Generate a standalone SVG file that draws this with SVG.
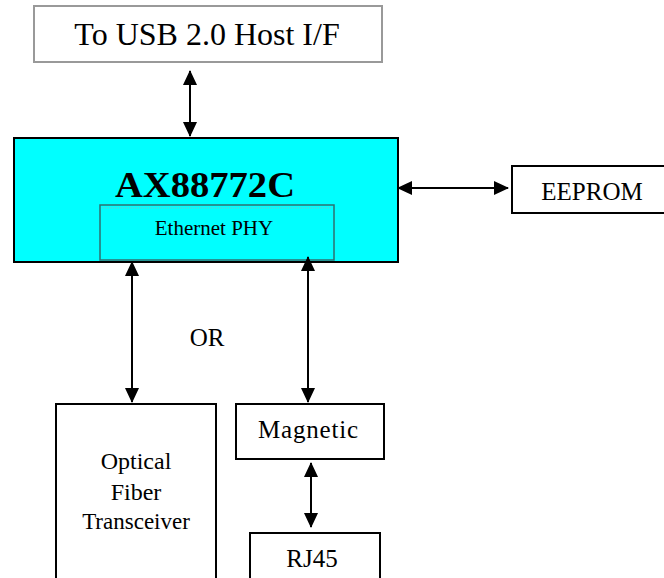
<svg xmlns="http://www.w3.org/2000/svg" width="664" height="578" viewBox="0 0 664 578">
<style>
.box{fill:#fff;stroke:#000;stroke-width:2}
.t{font-family:"Liberation Serif","Times New Roman",serif;fill:#000;text-anchor:middle}
.c{stroke:#000;stroke-width:2;fill:none;marker-start:url(#ah);marker-end:url(#ah)}
</style>
<defs>
<marker id="ah" markerUnits="userSpaceOnUse" markerWidth="16" markerHeight="16" refX="14" refY="7" orient="auto-start-reverse">
<path d="M0,0 L15,7 L0,14 z" fill="#000"/>
</marker>
</defs>
<rect width="664" height="578" fill="#fff"/>
<g id="usb">
<rect x="34" y="6" width="348" height="56" fill="#fff" stroke="#999" stroke-width="2"/>
<text class="t" x="207" y="45" font-size="32">To USB 2.0 Host I/F</text>
</g>
<g id="ax88772c">
<rect x="14" y="138" width="384" height="124" fill="#00ffff" stroke="#000" stroke-width="2"/>
<text class="t" x="205" y="197" font-size="36" font-weight="bold" textLength="180" lengthAdjust="spacingAndGlyphs">AX88772C</text>
</g>
<g id="phy">
<rect x="100" y="205" width="234" height="55" fill="#00ffff" stroke="#2f6f6f" stroke-width="1.5"/>
<line x1="102" y1="208" x2="332" y2="208" stroke="#7fbfbf" stroke-width="1" stroke-dasharray="1,1"/>
<text class="t" x="214" y="235" font-size="21">Ethernet PHY</text>
</g>
<g id="eeprom">
<rect x="512" y="166" width="160" height="47" class="box"/>
<text class="t" x="592" y="200" font-size="25">EEPROM</text>
</g>
<g id="optical">
<rect x="56" y="404" width="160" height="190" class="box"/>
<text class="t" x="136" y="469" font-size="24">Optical</text>
<text class="t" x="136" y="500" font-size="24">Fiber</text>
<text class="t" x="136" y="529" font-size="23">Transceiver</text>
</g>
<g id="magnetic">
<rect x="236" y="404" width="148" height="55" class="box"/>
<text class="t" x="308" y="438" font-size="25" textLength="100" lengthAdjust="spacing">Magnetic</text>
</g>
<g id="rj45">
<rect x="250" y="533" width="130" height="60" class="box"/>
<text class="t" x="312" y="567" font-size="25">RJ45</text>
</g>
<g id="or-label">
<text class="t" x="207" y="346" font-size="25">OR</text>
</g>
<g id="connectors">
<line class="c" x1="190" y1="71" x2="190" y2="136"/>
<line class="c" x1="398" y1="188" x2="508" y2="188"/>
<line class="c" x1="132" y1="262" x2="132" y2="402"/>
<line class="c" x1="308" y1="257" x2="308" y2="402"/>
<line class="c" x1="311" y1="463" x2="311" y2="527"/>
</g>
</svg>
